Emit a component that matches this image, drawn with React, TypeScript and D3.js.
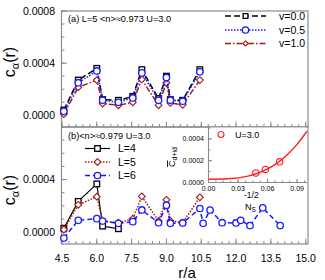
import React from 'react';
import * as d3 from 'd3';

// panel (a): L=5, three v values
const rA = [4.58, 5.2, 6.0, 6.25, 6.93, 7.55, 7.94, 8.66, 9.0, 9.17, 9.7, 10.44];
const v00 = [0.00004, 0.00027, 0.00036, 0.00012, 0.000115, 0.000145, 0.00035, 0.000128, 0.0003, 0.00012, 0.000115, 0.00035];
const v05 = [0.00003, 0.00025, 0.00034, 0.000115, 0.0001, 0.000133, 0.000325, 0.000115, 0.00029, 0.000115, 0.000108, 0.000333];
const v10 = [0.00001, 0.000215, 0.00027, 0.00009, 0.000077, 0.0001, 0.000275, 0.000077, 0.00025, 0.000095, 0.00008, 0.00027];

// panel (b): three lattice sizes
const rB4 = [4.58, 5.2, 6.0, 6.25, 6.93];
const L4 = [0.00003, 0.000234, 0.000367, 0.000046, 0.000026];
const rB5 = [4.58, 5.2, 6.0, 6.25, 6.93, 7.55, 7.94, 8.66, 9.0, 9.17, 9.7, 10.44];
const L5 = [0.00002, 0.000208, 0.00027, 0.000085, 0.000072, 0.000102, 0.000272, 0.000085, 0.000246, 0.000085, 0.000072, 0.000265];
const rB6 = [4.58, 5.2, 6.0, 6.25, 6.93, 7.55, 7.94, 8.66, 9.0, 9.17, 9.7, 10.44, 10.58, 10.88, 11.4, 12.0, 12.2, 12.6, 13.15, 13.9];
const L6 = [-0.000045, 0.00009, 0.000103, 0.000085, 0.000067, 0.00008, 0.000169, 0.000072, 0.000205, 0.000067, 0.00007, 0.00018, 0.000067, 0.000168, 0.000072, 0.00007, 0.00009, 0.00005, 0.000185, 0.00005];

// inset
const insetX = [0.0481, 0.0577, 0.0722];
const insetY = [0.000087, 0.00012, 0.00019];
const fitX = [0, 0.02, 0.04, 0.05, 0.06, 0.07, 0.08, 0.09, 0.1];
const fitY = [0.00003, 0.000034, 0.000058, 0.000085, 0.000125, 0.00018, 0.000255, 0.00035, 0.00047];

const xTicks = [4.5, 6.0, 7.5, 9.0, 10.5, 12.0, 13.5, 15.0];
const yTicks = [0, 0.0004, 0.0008];
const insetXTicks = [0, 0.03, 0.06, 0.09];
const insetYTicks = [0, 0.0002, 0.0004];

const FONT = 'Liberation Sans, Arial, sans-serif';
const BLUE = '#1a1aff';
const DRED = '#a01818';
const RED = '#ff2020';
const FRAME = '#8a8a8a';

const x = d3.scaleLinear().domain([4.5, 15.1]).range([62, 308]);
const yA = d3.scaleLinear().domain([-0.00009, 0.0008]).range([127, 11]);
const yB = d3.scaleLinear().domain([-0.00009, 0.0008]).range([244, 127]);
const ix = d3.scaleLinear().domain([0, 0.098]).range([208.5, 305]);
const iy = d3.scaleLinear().domain([0, 0.0005]).range([182.5, 128]);

type Mk = 'sq' | 'ci' | 'di';

function marker(kind: Mk, cx: number, cy: number, color: string, key: any, s = 1) {
  if (kind === 'sq') {
    const h = 2.8 * s;
    return <rect key={key} x={cx - h} y={cy - h} width={2 * h} height={2 * h} fill="white" stroke={color} strokeWidth={1.3} />;
  }
  if (kind === 'ci') {
    return <circle key={key} cx={cx} cy={cy} r={3.2 * s} fill="white" stroke={color} strokeWidth={1.3} />;
  }
  const h = 3.4 * s;
  return (
    <path key={key} d={`M${cx},${cy - h}L${cx + h},${cy}L${cx},${cy + h}L${cx - h},${cy}Z`} fill="white" stroke={color} strokeWidth={1.1} />
  );
}

function Series({ xs, ys, y, color, dash, width, mk }: any) {
  const line = d3.line<number>().x((_, i) => x(xs[i])).y((d) => y(d));
  return (
    <g>
      <path d={line(ys) || ''} fill="none" stroke={color} strokeWidth={width} strokeDasharray={dash} />
      {ys.map((v: number, i: number) => marker(mk, x(xs[i]), y(v), color, i))}
    </g>
  );
}

function Panel({ y, showTop }: any) {
  const [y0, y1] = y.range();
  const minorX = d3.range(4.5, 15.05, 0.3);
  const minorY = d3.range(-0.0001, 0.00081, 0.0001).filter((v) => y(v) <= y0 && y(v) >= y1);
  return (
    <g>
      <rect x={61.5} y={y1} width={308 - 61.5} height={y0 - y1} fill="none" stroke={FRAME} strokeWidth={1.2} />
      {minorX.map((v, i) => (
        <line key={'mx' + i} x1={x(v)} x2={x(v)} y1={y0} y2={y0 - 3} stroke={FRAME} />
      ))}
      {xTicks.map((v, i) => (
        <line key={'Mx' + i} x1={x(v)} x2={x(v)} y1={y0} y2={y0 - 5.5} stroke={FRAME} />
      ))}
      {minorY.map((v, i) => (
        <line key={'my' + i} x1={61.5} x2={64.5} y1={y(v)} y2={y(v)} stroke={FRAME} />
      ))}
      {yTicks
        .filter((v) => (showTop ? true : v < 0.0007))
        .map((v, i) => (
          <g key={'My' + i}>
            <line x1={61.5} x2={67} y1={y(v)} y2={y(v)} stroke={FRAME} />
            <text x={55} y={y(v) + 3.7} textAnchor="end" fontSize={10.5} fontFamily={FONT}>
              {d3.format('.4f')(v)}
            </text>
          </g>
        ))}
    </g>
  );
}

function YTitle({ cx, cy }: any) {
  return (
    <text transform={`translate(${cx},${cy}) rotate(-90)`} textAnchor="middle" fontSize={16} fontFamily={FONT}>
      c<tspan fontSize={11} dy={4}>α</tspan>
      <tspan dy={-4}>(r)</tspan>
    </text>
  );
}

function LegendRow({ x0, x1, yy, color, dash, width, mk, label, tx, s }: any) {
  return (
    <g>
      <line x1={x0} x2={x1} y1={yy} y2={yy} stroke={color} strokeWidth={width} strokeDasharray={dash} />
      {marker(mk, (x0 + x1) / 2, yy, color, 'm', s)}
      <text x={tx} y={yy + 3.8} fontSize={10.5} fontFamily={FONT}>
        {label}
      </text>
    </g>
  );
}

export default function App() {
  const fitLine = d3
    .line<number>()
    .x((_, i) => ix(fitX[i]))
    .y((d) => iy(d))
    .curve(d3.curveMonotoneX);
  const inMinorX = d3.range(0, 0.098, 0.0075);
  const inMinorY = d3.range(0, 0.00051, 0.0001);
  return (
    <svg width={325} height={280} style={{ position: 'absolute', left: 0, top: 0 }}>
      <rect width={325} height={280} fill="white" />
      <defs>
        <clipPath id="inclip">
          <rect x={208.5} y={127} width={99} height={56} />
        </clipPath>
      </defs>

      {/* panel (a) */}
      <Panel y={yA} showTop />
      <text x={68} y={22} fontSize={9.2} fontFamily={FONT}>
        (a) L=5 &lt;n&gt;≈0.973 U=3.0
      </text>
      <Series xs={rA} ys={v00} y={yA} color="#000" dash="6,3" width={1.5} mk="sq" />
      <Series xs={rA} ys={v10} y={yA} color={DRED} dash="6,2,1.5,2" width={1.5} mk="di" />
      <Series xs={rA} ys={v05} y={yA} color={BLUE} dash="1.5,1.5" width={1.5} mk="ci" />
      <LegendRow x0={225} x1={266} yy={16} color="#000" dash="6,3" width={1.5} mk="sq" label="v=0.0" tx={279} s={0.85} />
      <LegendRow x0={225} x1={266} yy={30} color={BLUE} dash="1.5,1.5" width={1.5} mk="ci" label="v=0.5" tx={279} />
      <LegendRow x0={225} x1={266} yy={43.5} color={DRED} dash="6,2,1.5,2" width={1.5} mk="di" label="v=1.0" tx={279} s={0.75} />
      <YTitle cx={15} cy={62} />

      {/* panel (b) */}
      <Panel y={yB} showTop={false} />
      <text x={68} y={138.5} fontSize={9.2} fontFamily={FONT}>
        (b)&lt;n&gt;≈0.979 U=3.0
      </text>
      <Series xs={rB4} ys={L4} y={yB} color="#000" dash={null} width={1.2} mk="sq" />
      <Series xs={rB5} ys={L5} y={yB} color={DRED} dash="1.5,1.5" width={1.5} mk="di" />
      <Series xs={rB6} ys={L6} y={yB} color={BLUE} dash="5,3" width={1.5} mk="ci" />
      <LegendRow x0={85} x1={110} yy={148.5} color="#000" dash={null} width={1.2} mk="sq" label="L=4" tx={118} />
      <LegendRow x0={85} x1={110} yy={162} color={DRED} dash="1.5,1.5" width={1.5} mk="di" label="L=5" tx={118} />
      <LegendRow x0={85} x1={110} yy={175.5} color={BLUE} dash="5,3" width={1.5} mk="ci" label="L=6" tx={118} />
      <YTitle cx={15} cy={190} />

      {/* x axis labels */}
      {xTicks.map((v, i) => (
        <text key={'xl' + i} x={x(v)} y={262} textAnchor="middle" fontSize={10.5} fontFamily={FONT}>
          {d3.format('.1f')(v)}
        </text>
      ))}
      <text x={187} y={278} textAnchor="middle" fontSize={15} fontFamily={FONT}>
        r/a
      </text>

      {/* inset */}
      <rect x={208.5} y={127.5} width={98} height={55} fill="white" />
      <line x1={208.5} x2={208.5} y1={127} y2={182.5} stroke={FRAME} strokeWidth={1.1} />
      <line x1={208.5} x2={307} y1={182.5} y2={182.5} stroke={FRAME} strokeWidth={1.1} />
      {inMinorX.map((v, i) => (
        <line key={'imx' + i} x1={ix(v)} x2={ix(v)} y1={182.5} y2={180.5} stroke={FRAME} />
      ))}
      {insetXTicks.map((v, i) => (
        <g key={'ixt' + i}>
          <line x1={ix(v)} x2={ix(v)} y1={182.5} y2={179} stroke={FRAME} />
          <text x={ix(v)} y={191} textAnchor="middle" fontSize={7} fontFamily={FONT}>
            {d3.format('.2f')(v)}
          </text>
        </g>
      ))}
      {inMinorY.map((v, i) => (
        <line key={'imy' + i} x1={208.5} x2={210.5} y1={iy(v)} y2={iy(v)} stroke={FRAME} />
      ))}
      {insetYTicks.map((v, i) => (
        <g key={'iyt' + i}>
          <line x1={208.5} x2={212} y1={iy(v)} y2={iy(v)} stroke={FRAME} />
          <text x={204} y={iy(v) + 2.5} textAnchor="end" fontSize={7} fontFamily={FONT}>
            {d3.format('.4f')(v)}
          </text>
        </g>
      ))}
      <g clipPath="url(#inclip)">
        <path d={fitLine(fitY) || ''} fill="none" stroke={RED} strokeWidth={1.4} />
      </g>
      {insetY.map((v, i) => (
        <g key={'ip' + i}>
          <circle cx={ix(insetX[i])} cy={iy(v)} r={3.2} fill="none" stroke={RED} strokeWidth={1.1} />
        </g>
      ))}
      <circle cx={221} cy={134.5} r={3} fill="none" stroke={RED} strokeWidth={1.1} />
      <text x={235} y={138} fontSize={9} fontFamily={FONT}>
        U=3.0
      </text>
      <text transform="translate(175,157) rotate(-90)" textAnchor="middle" fontSize={9} fontFamily={FONT}>
        <tspan textDecoration="overline">C</tspan>
        <tspan fontSize={7} dy={2}>d+id</tspan>
      </text>
      <text x={244} y={198} fontSize={8.5} fontFamily={FONT}>
        -1/2
      </text>
      <text x={245} y={210} fontSize={9} fontFamily={FONT}>
        N<tspan fontSize={6.5} dy={2}>S</tspan>
      </text>
    </svg>
  );
}
